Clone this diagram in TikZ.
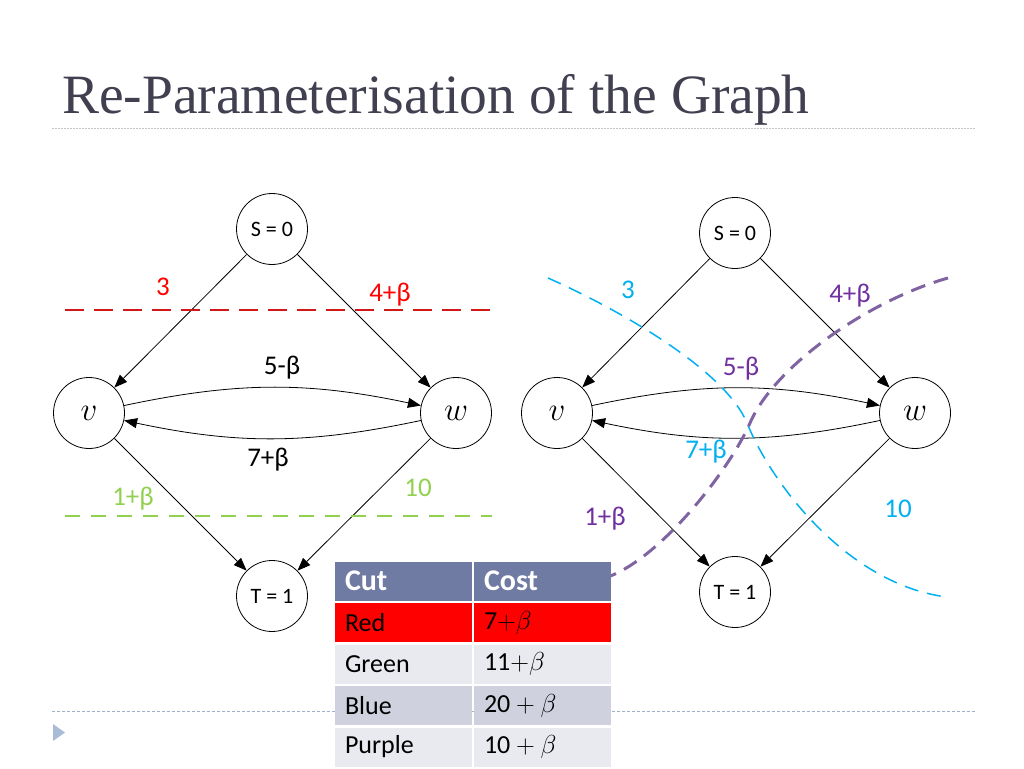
\RequirePackage{fix-cm}
\documentclass[tikz,border=0pt]{standalone}
\usepackage{fontspec}
\setmainfont{Liberation Serif}
\newfontfamily\labelfont{Carlito}
\usepackage{tikz}
\usetikzlibrary{arrows.meta}
\definecolor{titlegrey}{HTML}{404050}
\definecolor{cutred}{HTML}{FF0000}
\definecolor{redline}{HTML}{D01818}
\definecolor{cutgreen}{HTML}{92D050}
\definecolor{cutblue}{HTML}{00B0F0}
\definecolor{cutpurple}{HTML}{7030A0}
\definecolor{purpleline}{HTML}{8064A2}
\definecolor{headblue}{HTML}{6F7BA3}
\definecolor{rowlight}{HTML}{E9EAEF}
\definecolor{rowmid}{HTML}{CFD2DE}
\definecolor{rulegrey}{HTML}{C4C4C4}
\definecolor{rulebluegrey}{HTML}{9FB1C8}
\definecolor{bulletblue}{HTML}{A8BCD8}

\begin{document}
\begin{tikzpicture}[x=1pt,y=-1pt,
  vtx/.style={draw,circle,minimum size=71pt,inner sep=0pt,line width=0.8pt,font=\labelfont\fontsize{22}{22}\selectfont},
  vtxm/.style={vtx,font=\fontsize{33}{33}\selectfont},
  arc/.style={-{Triangle[length=13pt,width=10pt]},line width=0.8pt},
  lbl/.style={font=\labelfont\fontsize{27}{27}\selectfont,inner sep=0pt},
  cell/.style={minimum height=39pt,text width=117pt,inner xsep=10pt,inner ysep=0pt,align=left,font=\labelfont\fontsize{26}{26}\selectfont},
  headcell/.style={cell,fill=headblue,text=white,font=\labelfont\bfseries\fontsize{30}{30}\selectfont}]
\useasboundingbox (0,0) rectangle (1024,768);
\node[anchor=base west,inner sep=0pt,text=titlegrey,font=\fontsize{55.5}{55.5}\selectfont] (title) at (62,113) {Re-Parameterisation of the Graph};
\draw[rulegrey,line width=1pt,dash pattern=on 1.5pt off 1.5pt] (52,128)--(975,128);
\draw[rulebluegrey,line width=0.8pt,dash pattern=on 3pt off 2pt] (52,711)--(975,711);
\fill[bulletblue] (53,724)--(65,732.5)--(53,741)--cycle;

\node[vtx] (s1) at (272,229) {S = 0};
\node[vtxm] (v1) at (89,413) {$v$};
\node[vtxm] (w1) at (456,413) {$w$};
\node[vtx] (t1) at (272,596) {T = 1};
\draw[arc] (s1)--(v1);
\draw[arc] (s1)--(w1);
\draw[arc] (v1)--(t1);
\draw[arc] (w1)--(t1);
\draw[arc] (v1) to[bend left=12] (w1);
\draw[arc] (w1) to[bend left=12] (v1);
\draw[redline,line width=1.6pt,dash pattern=on 19pt off 10pt] (65,310)--(495,310);
\draw[cutgreen,line width=1.6pt,dash pattern=on 15pt off 11pt] (65,516)--(492,516);
\node[lbl,text=cutred] (a3) at (163,287) {3};
\node[lbl,text=cutred] (a4) at (390,295) {4+β};
\node[lbl] (a5) at (282,368) {5-β};
\node[lbl] (a7) at (268,460) {7+β};
\node[lbl,text=cutgreen] (a1) at (133,499) {1+β};
\node[lbl,text=cutgreen] (a10) at (418,488) {10};

\node[vtx] (s2) at (735,233) {S = 0};
\node[vtxm] (v2) at (557,413) {$v$};
\node[vtxm] (w2) at (915,413) {$w$};
\node[vtx] (t2) at (735,592) {T = 1};
\draw[arc] (s2)--(v2);
\draw[arc] (s2)--(w2);
\draw[arc] (v2)--(t2);
\draw[arc] (w2)--(t2);
\draw[arc] (v2) to[bend left=12] (w2);
\draw[arc] (w2) to[bend left=12] (v2);
\draw[cutblue,line width=1.5pt,dash pattern=on 14pt off 9pt] (548,278) .. controls (620,310) and (725,370) .. (747,423) .. controls (773,487) and (850,585) .. (947,597);
\draw[purpleline,line width=3pt,dash pattern=on 15pt off 9pt] (948,278) .. controls (870,300) and (775,365) .. (750,423) .. controls (730,469) and (660,560) .. (605,578);
\node[lbl,text=cutblue] (b3) at (628,290) {3};
\node[lbl,text=cutpurple] (b4) at (850,296) {4+β};
\node[lbl,text=cutpurple] (b5) at (741,369) {5-β};
\node[lbl,text=cutblue] (b7) at (706,452) {7+β};
\node[lbl,text=cutpurple] (b1) at (605,519) {1+β};
\node[lbl,text=cutblue] (b10) at (898,509) {10};

\node[headcell] (cut) at (403.5,581) {Cut};
\node[headcell] (cost) at (542.5,581) {Cost};
\node[cell,fill=cutred] (red) at (403.5,622.5) {Red};
\node[cell,fill=cutred] (redc) at (542.5,622.5) {7$+\beta$};
\node[cell,fill=rowlight] (green) at (403.5,664) {Green};
\node[cell,fill=rowlight] (greenc) at (542.5,664) {11$+\beta$};
\node[cell,fill=rowmid] (blue) at (403.5,705.5) {Blue};
\node[cell,fill=rowmid] (bluec) at (542.5,705.5) {20${}+\beta$};
\node[cell,fill=rowlight] (purple) at (403.5,747) {Purple};
\node[cell,fill=rowlight] (purplec) at (542.5,747) {10${}+\beta$};
\end{tikzpicture}
\end{document}
